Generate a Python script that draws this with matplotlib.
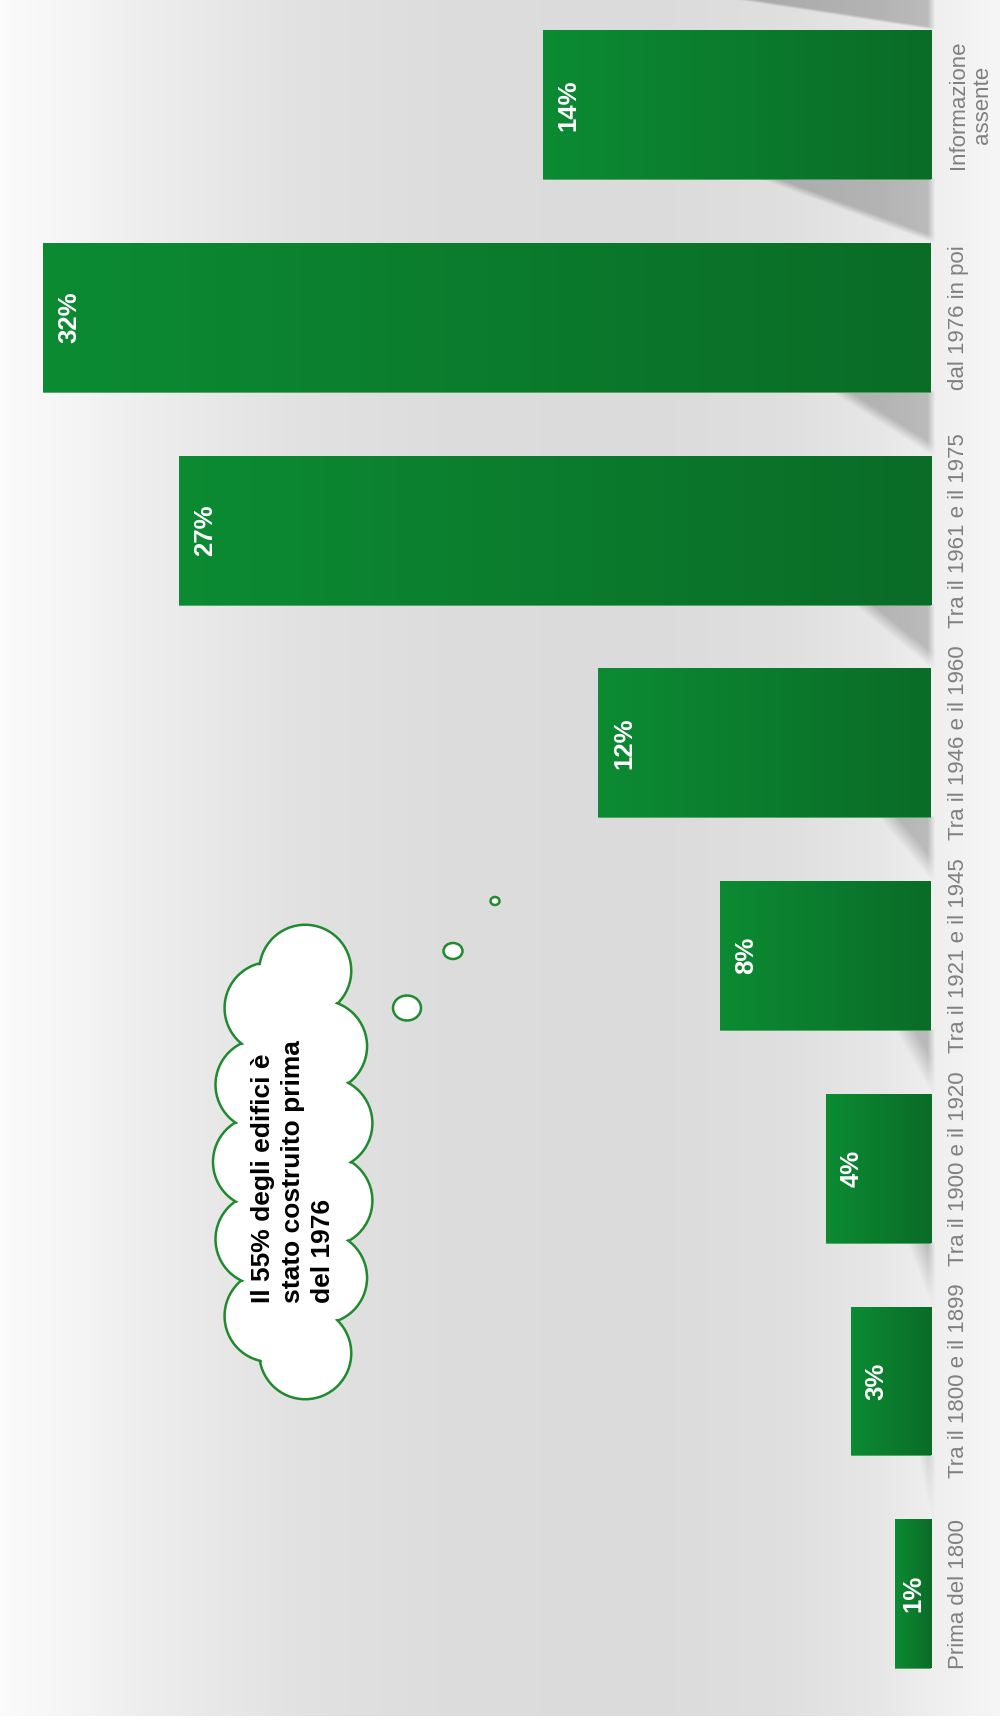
import numpy as np
import matplotlib.pyplot as plt
from matplotlib.patches import Circle, Ellipse

plt.rcParams['font.family'] = ['Liberation Sans', 'DejaVu Sans']

# dati (lettura dal grafico)
categories = ["Prima del 1800", "Tra il 1800 e il 1899", "Tra il 1900 e il 1920",
              "Tra il 1921 e il 1945", "Tra il 1946 e il 1960", "Tra il 1961 e il 1975",
              "dal 1976 in poi", "Informazione\nassente"]
values = [1.3, 2.9, 3.8, 7.6, 12.0, 27.1, 32.0, 14.0]
value_labels = ["1%", "3%", "4%", "8%", "12%", "27%", "32%", "14%"]
note = "Il 55% degli edifici è\nstato costruito prima\ndel 1976"

W, H = 1000, 1726
green_light = np.array([0x0c, 0x8b, 0x33]) / 255
green_dark = np.array([0x0a, 0x6c, 0x27]) / 255
cloud_green = '#1f8a2e'

fig = plt.figure(figsize=(10, 17.26), dpi=100)

# sfondo in coordinate pixel
bg = fig.add_axes([0, 0, 1, 1])
bg.set_xlim(0, W)
bg.set_ylim(H, 0)
bg.axis('off')

ax = fig.add_axes([0, 0.0150, 0.931, 0.9859])
ax.patch.set_alpha(0)
pos = np.arange(len(categories))
bars = ax.barh(pos, values, height=0.70, color='none', edgecolor='none', zorder=2)
ax.set_xlim(33.55, 0)
ax.set_ylim(-0.5, 7.5)

# gradiente orizzontale dentro ogni barra
grad = np.linspace(0, 1, 256)
grad_rgb = green_light[None, :] * (1 - grad[:, None]) + green_dark[None, :] * grad[:, None]
grad_rgb = grad_rgb[None, :, :]
for b in bars:
    x0, y0, w, h = b.get_x(), b.get_y(), b.get_width(), b.get_height()
    im = ax.imshow(grad_rgb, extent=(x0 + w, x0, y0, y0 + h), aspect='auto',
                   interpolation='bilinear', zorder=2)
    im.set_clip_path(b)
    b.set_edgecolor('#3a9c4f')
    b.set_linewidth(0.6)
ax.set_xlim(33.55, 0)
ax.set_ylim(-0.5, 7.5)

ax.yaxis.tick_right()
ax.set_yticks(pos)
ax.set_yticklabels(categories, rotation=90, va='center', ha='left',
                   multialignment='center', fontsize=16, color='#808080')
ax.tick_params(axis='y', length=0, pad=12)
ax.set_xticks([])
for s in ax.spines.values():
    s.set_visible(False)

# etichette percentuali
px_per_unit = abs(ax.transData.transform((1, 0))[0] - ax.transData.transform((0, 0))[0])
for p, v, lab in zip(pos, values, value_labels):
    off_px = min(26, v * px_per_unit / 2 + 0.5)
    ax.annotate(lab, xy=(v, p), xytext=(off_px * 0.72, 0), textcoords='offset points',
                rotation=90, ha='center', va='center', color='white',
                fontsize=18.5, fontweight='bold', zorder=4)

# immagine di sfondo con ombre diagonali
xs = np.arange(W)
prof = np.interp(xs, [0, 60, 150, 300, 450, 650, 780, 880, 940, 1000],
                 [0.985, 0.965, 0.93, 0.885, 0.865, 0.86, 0.875, 0.905, 0.94, 0.965])
img = np.tile(prof, (H, 1))

xr = ax.transData.transform((0, 0))[0]
edges = []
for b in bars:
    ya = H - ax.transData.transform((0, b.get_y() + b.get_height()))[1]
    yb = H - ax.transData.transform((0, b.get_y()))[1]
    edges.append((ya, yb))
edges = sorted(edges)
gaps = [(0, edges[0][0])] + [(edges[i][1], edges[i + 1][0]) for i in range(len(edges) - 1)]
shadow_start = [733, 759, 830, 853, 878, 895, 907, 918]
XX = xs[None, :].astype(float)
for (g0, g1), xt in zip(gaps, shadow_start):
    r0, r1 = int(round(g0)), int(round(g1))
    yy = np.arange(r0, r1)[:, None].astype(float)
    xl = xt + (xr - xt) * (yy - g0) / max(g1 - g0, 1)
    shade = np.clip((XX - xl) / 20, 0, 1) * np.clip((xr + 4 - XX) / 8, 0, 1) * 0.2
    img[r0:r1, :] -= shade
img[1716:, :] = 1.0
rgb = np.dstack([img, img, img])
bg.imshow(rgb, extent=(0, W, H, 0), interpolation='bilinear', zorder=0, aspect='auto')
bg.set_xlim(0, W)
bg.set_ylim(H, 0)

# nuvoletta
cx, cy, a, b_, r, n = 293, 1162, 34, 205, 46, 11
t = np.linspace(0, 2 * np.pi, 3000)
ex, ey = cx + a * np.cos(t), cy + b_ * np.sin(t)
arc = np.concatenate([[0], np.cumsum(np.hypot(np.diff(ex), np.diff(ey)))])
picks = np.linspace(0, arc[-1], n, endpoint=False) + arc[-1] / (2 * n)
lobes = [(np.interp(s, arc, ex), np.interp(s, arc, ey)) for s in picks]
for (lx, ly) in lobes:
    bg.add_patch(Circle((lx, ly), r, facecolor='white', edgecolor=cloud_green, lw=1.8, zorder=3))
for (lx, ly) in lobes:
    bg.add_patch(Circle((lx, ly), r - 1.9, facecolor='white', edgecolor='none', zorder=4))
bg.add_patch(Ellipse((cx, cy), 2 * (a + 12), 2 * (b_ + 12), facecolor='white', edgecolor='none', zorder=4))

for (bx, by, bw, bh) in [(407, 1008, 28, 25), (453, 951, 19, 16), (495, 901, 9, 8)]:
    bg.add_patch(Ellipse((bx, by), bw, bh, facecolor='white', edgecolor=cloud_green, lw=1.8, zorder=3))

bg.text(293, 1172, note, rotation=90, ha='center', va='center', multialignment='left',
        fontsize=19, fontweight='bold', color='black', linespacing=1.3, zorder=5)

fig.savefig('out.png', dpi=100)
